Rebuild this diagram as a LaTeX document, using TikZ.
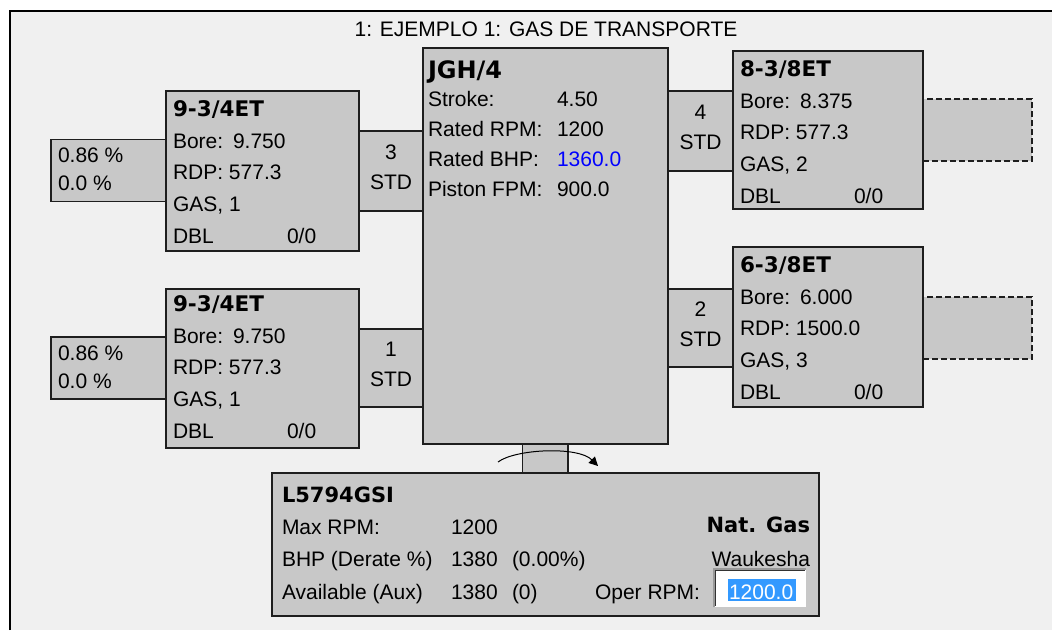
\documentclass[tikz,border=0pt]{standalone}
\usepackage{fontspec}
\setmainfont{Liberation Sans}
\newfontfamily\dejavu{DejaVu Sans}
\usetikzlibrary{calc,arrows.meta}
\definecolor{bgcol}{RGB}{240,240,240}
\definecolor{boxgray}{RGB}{200,200,200}
\definecolor{selblue}{RGB}{51,153,255}
\definecolor{edgecol}{RGB}{30,30,30}
\definecolor{valblue}{RGB}{0,0,255}
\tikzset{
  box/.style={rectangle, draw=edgecol, fill=boxgray, line width=1.6pt, inner sep=0pt, outer sep=0pt, anchor=north west},
  dbox/.style={box, dash pattern=on 6pt off 3pt, line width=1.4pt},
  txt/.style={inner sep=0pt, outer sep=0pt, anchor=base west, font=\fontsize{21}{24}\selectfont},
  txtc/.style={txt, anchor=base},
  txte/.style={txt, anchor=base east},
  ttl/.style={inner sep=0pt, outer sep=0pt, anchor=base west, font=\dejavu\bfseries\fontsize{21.5}{24}\selectfont},
  ttlbig/.style={ttl, font=\dejavu\bfseries\fontsize{24}{28}\selectfont},
}
% cylinder: name, corner, width, height, title, bore, rdp line, gas number, text shift
\newcommand\cylbox[9]{%
  \node[box, minimum width=#3pt, minimum height=#4pt] (#1) at (#2) {};
  \node[ttl] (#1-t) at ($(#1.north west)+(7,{25+(#9)})$) {#5};
  \node[txt] (#1-bl) at ($(#1.north west)+(7,{57+(#9)})$) {Bore:};
  \node[txt] (#1-bv) at ($(#1.north west)+(67,{57+(#9)})$) {#6};
  \node[txt] (#1-r) at ($(#1.north west)+(7,{88+(#9)})$) {RDP: #7};
  \node[txt] (#1-g) at ($(#1.north west)+(7,{120+(#9)})$) {GAS, #8};
  \node[txt] (#1-d) at ($(#1.north west)+(7,{152+(#9)})$) {DBL};
  \node[txt] (#1-z) at ($(#1.north west)+(121,{152+(#9)})$) {0/0};
}
% connector: name, corner, width, height, number
\newcommand\connbox[5]{%
  \node[box, minimum width=#3pt, minimum height=#4pt] (#1) at (#2) {};
  \node[txtc] (#1-n) at ($(#1.center)+(0,-12)$) {#5};
  \node[txtc] (#1-s) at ($(#1.center)+(0,18)$) {STD};
}
% small left box: name, corner
\newcommand\pctbox[2]{%
  \node[box, minimum width=115pt, minimum height=62pt] (#1) at (#2) {};
  \node[txt] (#1-a) at ($(#1.west)+(7,-8)$) {0.86 \%};
  \node[txt] (#1-b) at ($(#1.west)+(7,20)$) {0.0 \%};
}
\begin{document}
\begin{tikzpicture}[x=1pt,y=-1pt]
\useasboundingbox (0,0) rectangle (1052,630);
\fill[white] (0,0) rectangle (1052,630);
\fill[bgcol] (10,11) rectangle (1052,630);
\draw[line width=2pt, black] (10,630) -- (10,11) -- (1052,11);

\node[txtc] (title) at (546,36) {1: EJEMPLO 1: GAS DE TRANSPORTE};

% dashed boxes (behind cylinders)
\node[dbox, minimum width=109pt, minimum height=62pt] (dashC) at (923,99) {};
\node[dbox, minimum width=109pt, minimum height=62pt] (dashD) at (923,297) {};

% small boxes and connectors
\pctbox{pA}{51,139.5}
\pctbox{pB}{51,337}
\connbox{c3}{359,131}{64}{80}{3}
\connbox{c1}{359,329}{64}{78}{1}
\connbox{c4}{668,91}{65}{80}{4}
\connbox{c2}{668,289}{65}{78}{2}

% shaft
\node[box, minimum width=45.5pt, minimum height=30pt] (shaft) at (522.5,444) {};

% cylinders
\cylbox{cylA}{166,91}{193}{160}{9-3/4ET}{9.750}{577.3}{1}{0}
\cylbox{cylB}{166,289}{193}{159}{9-3/4ET}{9.750}{577.3}{1}{-3}
\cylbox{cylC}{733,51}{190}{158}{8-3/8ET}{8.375}{577.3}{2}{0}
\cylbox{cylD}{733,247}{190}{160}{6-3/8ET}{6.000}{1500.0}{3}{0}

% frame
\node[box, minimum width=245pt, minimum height=396pt] (frame) at (423,48) {};
\node[ttlbig] (jgh) at (428,78) {JGH/4};
\node[txt] (f1l) at (428,106) {Stroke:};
\node[txt] (f1v) at (557,106) {4.50};
\node[txt] (f2l) at (428,136) {Rated RPM:};
\node[txt] (f2v) at (557,136) {1200};
\node[txt] (f3l) at (428,166) {Rated BHP:};
\node[txt, text=valblue] (f3v) at (557,166) {1360.0};
\node[txt] (f4l) at (428,196) {Piston FPM:};
\node[txt] (f4v) at (557,196) {900.0};

% driver
\node[box, minimum width=547pt, minimum height=143pt] (drv) at (272,473) {};
\node[ttl, font=\dejavu\bfseries\fontsize{21}{24}\selectfont] (dname) at (282,502.5) {L5794GSI};
\node[txt] (d1l) at (282,534) {Max RPM:};
\node[txt] (d1v) at (451,534) {1200};
\node[txt] (d2l) at (282,566.5) {BHP (Derate \%)};
\node[txt] (d2v) at (451,566.5) {1380};
\node[txt] (d2p) at (512,566.5) {(0.00\%)};
\node[txt] (d3l) at (282,599) {Available (Aux)};
\node[txt] (d3v) at (451,599) {1380};
\node[txt] (d3p) at (512,599) {(0)};
\node[ttl, anchor=base east, font=\dejavu\bfseries\fontsize{21}{24}\selectfont] (dfuel) at (810,532.5) {Nat. Gas};
\node[txte] (dmaker) at (810,566) {Waukesha};
\node[txt] (doper) at (595,599) {Oper RPM:};
% input field
\node[rectangle, fill=white, draw=none, minimum width=92pt, minimum height=38pt, anchor=north west, inner sep=0pt] (inp) at (714,569) {};
\draw[line width=1.2pt, gray!80] (inp.south west) -- (inp.north west) -- (inp.north east);
\draw[line width=1.2pt, gray!40!black] ($(inp.south west)+(1.5,-1.5)$) -- ($(inp.north west)+(1.5,1.5)$) -- ($(inp.north east)+(-1.5,1.5)$);
\node[rectangle, fill=selblue, minimum width=68pt, minimum height=22pt, anchor=north west, inner sep=0pt] (sel) at (728,579) {};
\node[txt, text=white] (selv) at (729,599) {1200.0};

% rotation arrow
\coordinate (arcA) at (498,462);
\coordinate (arcB) at (598,466);
\draw[line width=1pt, black, -{Triangle[length=9pt,width=9pt]}] (arcA) .. controls (515,449) and (578,446) .. (arcB);
\end{tikzpicture}
\end{document}
